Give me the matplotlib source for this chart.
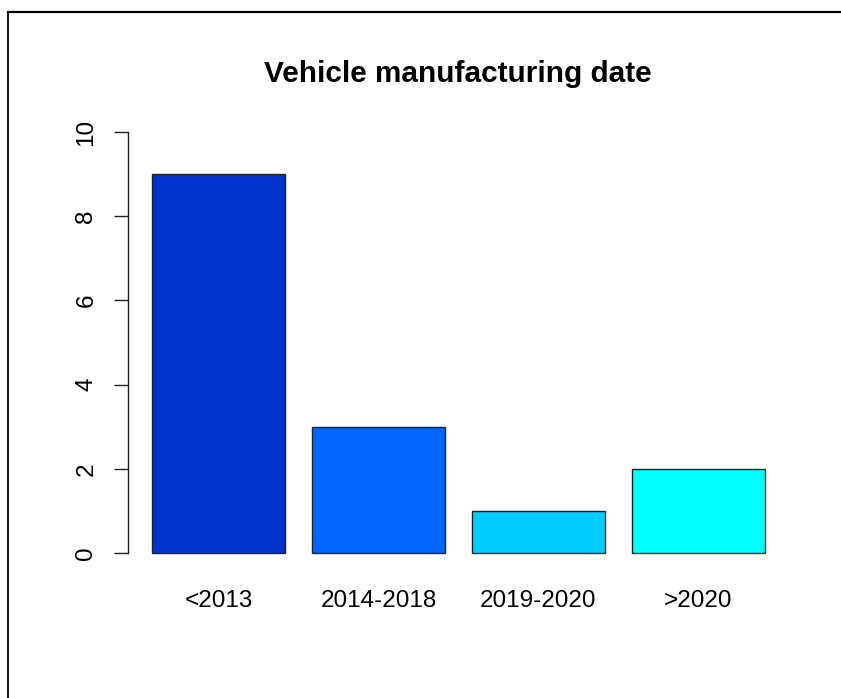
import matplotlib
matplotlib.use("Agg")
import matplotlib.pyplot as plt
from matplotlib.lines import Line2D

categories = ["<2013", "2014-2018", "2019-2020", ">2020"]
counts = [9, 3, 1, 2]
colors = ["#0033CC", "#0066FF", "#00CCFF", "#00FFFF"]
yticks = [0, 2, 4, 6, 8, 10]

plt.rcParams['font.family'] = ['Liberation Sans', 'DejaVu Sans']

W, H = 841, 698
fig = plt.figure(figsize=(W / 100, H / 100), dpi=100)

left_px, right_px, top_px, bot_px = 128, 789.5, 115.2, 569.8
ax = fig.add_axes([left_px / W, 1 - bot_px / H, (right_px - left_px) / W, (bot_px - top_px) / H])

x = [0.7 + 1.2 * i for i in range(len(counts))]
ax.bar(x, counts, width=1.0, color=colors, edgecolor="#222222", linewidth=1.0)
ax.set_xlim(0.02, 4.984)
ax.set_ylim(-0.4, 10.4)

for s in ["top", "right", "bottom"]:
    ax.spines[s].set_visible(False)
ax.spines["left"].set_bounds(0, 10)
ax.spines["left"].set_linewidth(1.0)
ax.spines["left"].set_color("#222222")

ax.set_yticks(yticks)
ax.set_yticklabels([str(v) for v in yticks], rotation=90, va="center", fontsize=17.5)
ax.tick_params(axis="y", length=10, width=1.0, pad=12, color="#222222")

ax.set_xticks(x)
ax.set_xticklabels(categories, fontsize=17.5)
ax.tick_params(axis="x", length=0, pad=14.5)

fig.text(457.5 / W, 1 - 74.5 / H, "Vehicle manufacturing date", ha="center", va="center",
         fontsize=21.4, fontweight="bold")

fig.add_artist(Line2D([7.5 / W, 841 / W], [1 - 12 / H, 1 - 12 / H], color="black", linewidth=1.6,
                      transform=fig.transFigure))
fig.add_artist(Line2D([7.5 / W, 7.5 / W], [1 - 12 / H, 0], color="black", linewidth=1.3,
                      transform=fig.transFigure))

fig.savefig("out.png", dpi=100)
